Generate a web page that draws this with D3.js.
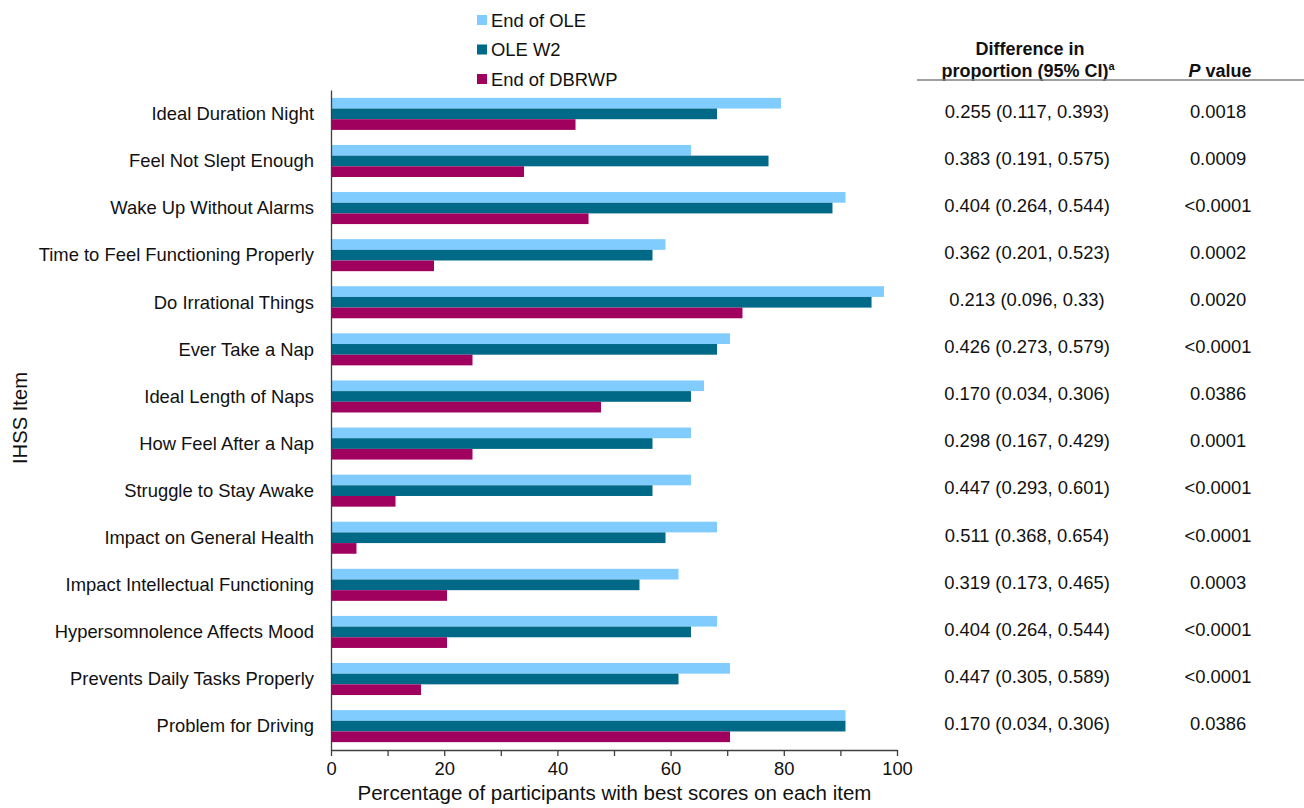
<!DOCTYPE html>
<html>
<head>
<meta charset="utf-8">
<script src="https://cdn.jsdelivr.net/npm/d3@7"></script>
<style>
  html, body { margin: 0; padding: 0; background: #fff; }
  svg { display: block; font-family: "Liberation Sans", Arial, Helvetica, sans-serif; }
</style>
</head>
<body>
<svg id="chart" width="1304" height="808"></svg>
<script>
const categories = [
  "Ideal Duration Night", "Feel Not Slept Enough", "Wake Up Without Alarms",
  "Time to Feel Functioning Properly", "Do Irrational Things", "Ever Take a Nap",
  "Ideal Length of Naps", "How Feel After a Nap", "Struggle to Stay Awake",
  "Impact on General Health", "Impact Intellectual Functioning",
  "Hypersomnolence Affects Mood", "Prevents Daily Tasks Properly", "Problem for Driving"
];
const seriesNames = ["End of OLE", "OLE W2", "End of DBRWP"];
const endOLE   = [79.5, 63.6, 90.9, 59.1, 97.7, 70.5, 65.9, 63.6, 63.6, 68.2, 61.4, 68.2, 70.5, 90.9];
const oleW2    = [68.2, 77.3, 88.6, 56.8, 95.5, 68.2, 63.6, 56.8, 56.8, 59.1, 54.5, 63.6, 61.4, 90.9];
const endDBRWP = [43.2, 34.1, 45.5, 18.2, 72.7, 25.0, 47.7, 25.0, 11.4, 4.5, 20.5, 20.5, 15.9, 70.5];
const diffCI = [
  "0.255 (0.117, 0.393)", "0.383 (0.191, 0.575)", "0.404 (0.264, 0.544)",
  "0.362 (0.201, 0.523)", "0.213 (0.096, 0.33)", "0.426 (0.273, 0.579)",
  "0.170 (0.034, 0.306)", "0.298 (0.167, 0.429)", "0.447 (0.293, 0.601)",
  "0.511 (0.368, 0.654)", "0.319 (0.173, 0.465)", "0.404 (0.264, 0.544)",
  "0.447 (0.305, 0.589)", "0.170 (0.034, 0.306)"
];
const pValues = ["0.0018", "0.0009", "<0.0001", "0.0002", "0.0020", "<0.0001", "0.0386",
  "0.0001", "<0.0001", "<0.0001", "0.0003", "<0.0001", "<0.0001", "0.0386"];
const xTicks = [0, 10, 20, 30, 40, 50, 60, 70, 80, 90, 100];

const colors = ["#80CCFF", "#006987", "#A0005E"];
const FS = 18.4;
const axisColor = "#404040";

const svg = d3.select("#chart");
const rows = categories.map((c, i) => ({cat: c, vals: [endOLE[i], oleW2[i], endDBRWP[i]], diff: diffCI[i], p: pValues[i]}));

const x = d3.scaleLinear().domain([0, 100]).range([331, 897]);
const y = d3.scaleBand().domain(categories).range([90, 750]).paddingInner(0.32).paddingOuter(0.167);
const ySub = d3.scaleBand().domain(seriesNames).range([0, y.bandwidth()]);

// bars
const g = svg.append("g");
const groups = g.selectAll("g.grp").data(rows).join("g")
  .attr("class", "grp")
  .attr("transform", d => `translate(0,${y(d.cat)})`);
groups.selectAll("rect").data(d => d.vals.map((v, k) => ({v, k}))).join("rect")
  .attr("x", x(0))
  .attr("y", d => ySub(seriesNames[d.k]))
  .attr("width", d => x(d.v) - x(0))
  .attr("height", ySub.bandwidth())
  .attr("fill", d => colors[d.k]);

// x axis
const xAxis = svg.append("g")
  .attr("transform", "translate(0,750)")
  .call(d3.axisBottom(x).tickValues(xTicks).tickSize(6).tickSizeOuter(0)
    .tickFormat(d => d % 20 === 0 ? d : ""));
xAxis.selectAll("path, line").attr("stroke", axisColor).attr("stroke-width", 1.3);
xAxis.selectAll("text").attr("font-size", FS).attr("fill", "#111").attr("dy", 0).attr("y", 25);
xAxis.attr("font-family", null);

// y axis
const yAxis = svg.append("g")
  .attr("transform", `translate(${x(0)},0)`)
  .call(d3.axisLeft(y).tickSize(0).tickSizeOuter(0).tickPadding(17));
yAxis.select(".domain").attr("stroke", axisColor).attr("stroke-width", 1.3);
yAxis.selectAll("text").attr("font-size", FS).attr("fill", "#111").attr("dy", "0.34em");
yAxis.attr("font-family", null);

// axis titles
svg.append("text").attr("x", 614.5).attr("y", 800)
  .attr("text-anchor", "middle").attr("font-size", 20.5).attr("fill", "#111")
  .text("Percentage of participants with best scores on each item");
svg.append("text").attr("transform", "translate(27,418) rotate(-90)")
  .attr("text-anchor", "middle").attr("font-size", 20.2).attr("fill", "#111")
  .text("IHSS Item");

// legend
const leg = svg.append("g");
seriesNames.forEach((s, i) => {
  const yy = 20 + i * 29.5;
  leg.append("rect").attr("x", 477).attr("y", yy - 5).attr("width", 10).attr("height", 10).attr("fill", colors[i]);
  leg.append("text").attr("x", 491).attr("y", yy + 6.5).attr("font-size", FS).attr("fill", "#111").text(s);
});

// table header
const diffX = 1027, pX = 1218;
svg.append("text").attr("x", 1030).attr("y", 55).attr("text-anchor", "middle")
  .attr("font-size", 18).attr("font-weight", "bold").attr("fill", "#111").text("Difference in");
const h2 = svg.append("text").attr("x", 1028).attr("y", 77).attr("text-anchor", "middle")
  .attr("font-size", 18).attr("font-weight", "bold").attr("fill", "#111");
h2.append("tspan").text("proportion (95% CI)");
h2.append("tspan").attr("font-size", 11).attr("dy", -7).text("a");
const h3 = svg.append("text").attr("x", 1220).attr("y", 77).attr("text-anchor", "middle")
  .attr("font-size", 18).attr("font-weight", "bold").attr("fill", "#111");
h3.append("tspan").attr("font-style", "italic").text("P");
h3.append("tspan").text(" value");
svg.append("line").attr("x1", 917).attr("x2", 1304).attr("y1", 80).attr("y2", 80)
  .attr("stroke", "#808080").attr("stroke-width", 1.5);

// table rows
const tbl = svg.append("g");
tbl.selectAll("text.diff").data(rows).join("text").attr("class", "diff")
  .attr("x", diffX).attr("y", d => y(d.cat) + y.bandwidth() / 2 + 3.8)
  .attr("text-anchor", "middle").attr("font-size", FS).attr("fill", "#111").text(d => d.diff);
tbl.selectAll("text.pv").data(rows).join("text").attr("class", "pv")
  .attr("x", pX).attr("y", d => y(d.cat) + y.bandwidth() / 2 + 3.8)
  .attr("text-anchor", "middle").attr("font-size", FS).attr("fill", "#111").text(d => d.p);
</script>
</body>
</html>
